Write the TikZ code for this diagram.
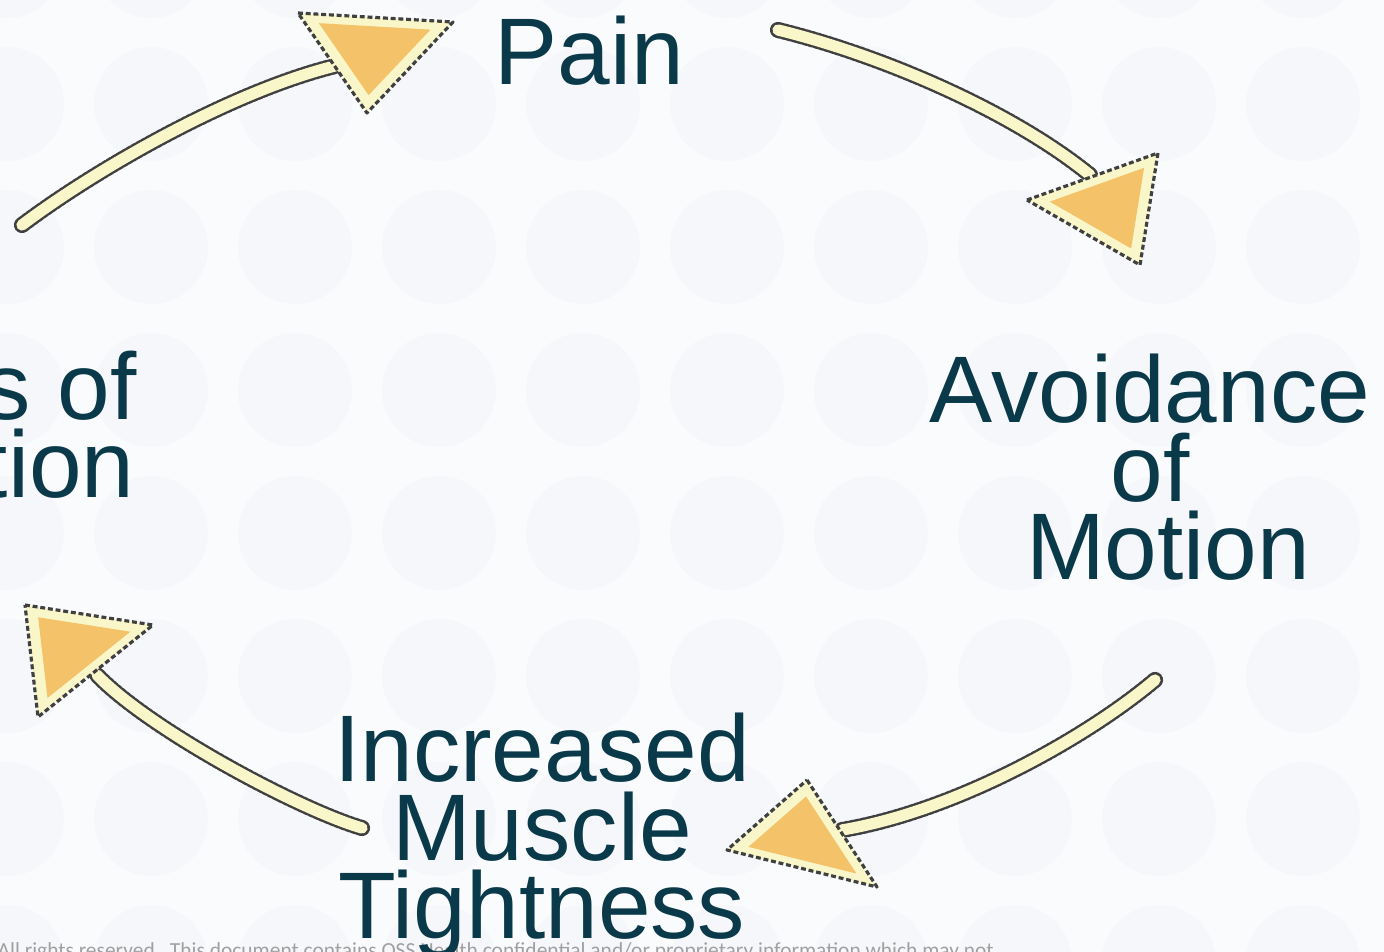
\documentclass[tikz,border=0pt]{standalone}
\usepackage{fontspec}
\setmainfont{Liberation Sans}
\newfontfamily\footfont{Carlito}
\usetikzlibrary{calc}
\definecolor{txtcol}{RGB}{10,58,74}
\definecolor{bgcol}{RGB}{250,251,253}
\definecolor{dotcol}{RGB}{246,247,250}
\definecolor{shaftcol}{RGB}{249,246,202}
\definecolor{headcol}{RGB}{244,194,104}
\definecolor{footcol}{RGB}{160,160,160}

% 箭头头部：外三角 + 内三角
\newcommand{\headtri}[4]{%
  \coordinate (#1-g) at ($0.3333*(#2)+0.3333*(#3)+0.3333*(#4)$);
  \draw[headrim] (#2) -- (#3) -- (#4) -- cycle;
  \fill[headcol] ($(#1-g)!0.72!(#2)$) -- ($(#1-g)!0.72!(#3)$) -- ($(#1-g)!0.72!(#4)$) -- cycle;
}

\begin{document}
\begin{tikzpicture}[x=0.01cm, y=-0.01cm,
  cycletext/.style={font=\fontsize{26.9}{22.4}\selectfont, text=txtcol, inner sep=0pt, align=center},
  shaftrim/.style={draw=black!75, line width=4.6pt, line cap=round, dash pattern=on 0.9pt off 0.7pt},
  shaft/.style={draw=shaftcol, line width=3.2pt, line cap=round},
  headrim/.style={fill=shaftcol, draw=black!75, line width=0.9pt, line join=round, dash pattern=on 1.4pt off 0.8pt}]
  \useasboundingbox (0,0) rectangle (1384,952);
  \clip (0,0) rectangle (1384,952);

  % 背景
  \fill[bgcol] (0,0) rectangle (1384,952);
  \foreach \i in {0,...,9}
    \foreach \j in {-1,...,6}
      \fill[dotcol] (7+144*\i, 104+143*\j) circle (57);

  % 页脚
  \node[anchor=base west, inner sep=0pt, font=\footfont\fontsize{6.1}{7}\selectfont, text=footcol] (footer) at (-3,958)
    {All rights reserved.\ \ This document contains OSS Health confidential and/or proprietary information which may not};

  % 文字
  \node[cycletext, anchor=base] (pain) at (589,85) {Pain};
  \node[cycletext, anchor=north] (avoid) at (1150,353) {Avoidance\\of\\\hspace*{0.38em}Motion};
  \node[cycletext, anchor=north] (tight) at (542,712) {Increased\\Muscle\\Tightness};
  \node[cycletext, anchor=north] (loss) at (-16,350) {Loss of\\\hspace*{0.18em}Motion};

  % 箭头端点
  \coordinate (a1s) at (22,225);   \coordinate (a1e) at (335,66);
  \coordinate (a2s) at (778,30);   \coordinate (a2e) at (1090,175);
  \coordinate (a3s) at (1155,680); \coordinate (a3e) at (842,830);
  \coordinate (a4s) at (362,828);  \coordinate (a4e) at (97,675);

  % 左上：指向 Pain
  \draw[shaftrim] (a1s) .. controls (95,170) and (230,92) .. (a1e);
  \draw[shaft] (a1s) .. controls (95,170) and (230,92) .. (a1e);
  \coordinate (h1a) at (298,13); \coordinate (h1b) at (453,22); \coordinate (h1c) at (367,113);
  \headtri{h1}{h1a}{h1b}{h1c}

  % 右上：指向 Avoidance of Motion
  \draw[shaftrim] (a2s) .. controls (880,55) and (1010,110) .. (a2e);
  \draw[shaft] (a2s) .. controls (880,55) and (1010,110) .. (a2e);
  \coordinate (h2a) at (1027,200); \coordinate (h2b) at (1158,153); \coordinate (h2c) at (1140,265);
  \headtri{h2}{h2a}{h2b}{h2c}

  % 右下：指向 Increased Muscle Tightness
  \draw[shaftrim] (a3s) .. controls (1090,735) and (960,810) .. (a3e);
  \draw[shaft] (a3s) .. controls (1090,735) and (960,810) .. (a3e);
  \coordinate (h3a) at (807,780); \coordinate (h3b) at (877,887); \coordinate (h3c) at (727,850);
  \headtri{h3}{h3a}{h3b}{h3c}

  % 左下：指向 Loss of Motion
  \draw[shaftrim] (a4s) .. controls (300,810) and (150,730) .. (a4e);
  \draw[shaft] (a4s) .. controls (300,810) and (150,730) .. (a4e);
  \coordinate (h4a) at (25,605); \coordinate (h4b) at (153,625); \coordinate (h4c) at (38,717);
  \headtri{h4}{h4a}{h4b}{h4c}
\end{tikzpicture}
\end{document}
